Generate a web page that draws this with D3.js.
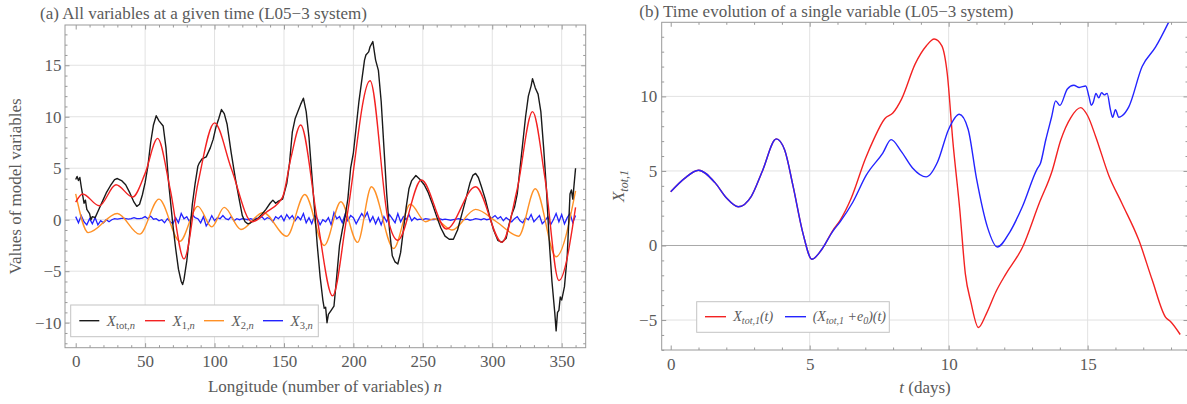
<!DOCTYPE html>
<html><head><meta charset="utf-8">
<script src="https://cdn.jsdelivr.net/npm/d3@7"></script>
<style>
body{margin:0;background:#fff}
svg{display:block}
text{font-family:"Liberation Serif","Times New Roman",serif;fill:#5a5a5a}
</style>
</head><body>
<svg id="c" width="1187" height="404"></svg>
<script>
// ---------------- Panel (a) data ----------------
const titleA = "(a) All variables at a given time (L05\u22123 system)";
const xLabelA = "Longitude (number of variables) ";
const yLabelA = "Values of model variables";
const xTicksA = [0, 50, 100, 150, 200, 250, 300, 350];
const yTicksA = [-10, -5, 0, 5, 10, 15];

// X1 (smooth, red) key points
const nX1 = [0, 5, 17, 29, 41, 50, 59, 68, 78, 88, 100, 112, 127, 137, 149, 155, 162, 174, 185, 195, 212, 225, 232, 249, 267, 288, 307, 318, 329, 338, 348, 360];
const vX1 = [1.7, 2.5, 1.35, 3.4, 2.2, 4.5, 7.9, 3.0, -3.8, 3.5, 9.4, 5.0, -0.2, 0.7, 2.2, 6.0, 9.2, 0.0, -7.4, 0.0, 13.5, 0.0, -2.0, 3.85, -0.9, 3.2, -2.2, 3.0, 10.5, 4.0, -5.9, 1.2];

// X2 (orange) key points
const nX2 = [0, 9, 30, 46, 60, 75, 88, 98, 107, 119, 135, 152, 165, 179, 191, 203, 213, 229, 241, 252, 258, 271, 288, 303, 319, 331, 346, 360];
const vX2 = [2.5, -1.25, 0.6, -1.4, 2.0, -2.1, 1.3, -0.7, 1.2, -0.95, 0.7, -1.6, 2.45, -2.5, 1.75, -2.2, 3.2, -2.8, 1.5, -0.2, 0.1, -1.0, 1.0, -0.2, -1.6, 3.0, -3.6, 2.8];

// X3 (blue) values at n = 0, 2, 4, ..., 360
const vX3 = [
  0.3, -0.3, 0.4, -0.2, -0.5, 0.1,
  -0.4, 0.2, -0.5, -0.1, -0.3, 0.0, -0.2,
  0.0, 0.1, 0.05, 0.1, 0.15, 0.1, 0.05, 0.1, 0.2, 0.1, 0.1, 0.15,
  0.3, 0.1, 0.35, 0.05,
  0.1, -0.1, 0.0, -0.3, 0.1, -0.2, -0.4, 0.2, -0.3, 0.6, 0.1, 0.3, -0.2, 0.5, 0.2, 0.1, -0.3, 0.3, -0.6, -0.2, 0.4, -0.1,
  0.2, 0.1, 0.4, 0.1, 0.0, 0.3, -0.1, 0.1, 0.0, 0.1, 0.05, 0.0, 0.1, 0.0, 0.15, 0.1, 0.3, 0.0, 0.2, 0.1, -0.2, 0.3, 0.1, 0.4, -0.1,
  0.5, 0.1, 0.4, -0.1, 0.3, 0.0, 0.6, -0.3, 0.2, -0.4, 0.4, 0.1, -0.5, 0.0, -0.2, 0.2, -0.5, 0.7, 0.1, 0.3, -0.3, 0.5, -0.1, 0.4, 0.2, -0.4, 0.1, 0.6, 0.2, 0.7, -0.2, 0.3,
  -0.4, 0.2, -0.5, 0.3, -0.2, 0.5, 0.1, -0.3, 0.6, -0.2, 0.3, 0.0, 0.5, -0.1, 0.2,
  0.0, 0.05, 0.0, 0.1, 0.05, 0.0, 0.0, 0.05, 0.1, 0.0, 0.05, 0.0, -0.05, 0.0, 0.05, 0.1, 0.0, 0.0, 0.05, -0.05, 0.0, 0.1, 0.05, 0.0, 0.1, 0.0, 0.05,
  0.2, 0.4, 0.1, 0.3, -0.1, 0.2, 0.0, -0.2, 0.1, 0.3, -0.1, -0.3, 0.2, 0.0, 0.5, -0.2, 0.1, 0.4, -0.4, -0.1, 0.3, -0.5, 0.0, 0.6, -0.2, 0.5, -0.4, 0.2, 0.6, -0.3, 0.4
];
const x3Step = 2;

// X_tot (black) points
const nTot = [0, 1, 2, 3, 4, 6, 7, 8, 10, 11, 12, 14, 16, 18, 20, 22, 25, 28, 30, 33, 36, 39, 42, 44, 46, 48, 50, 52, 54, 56, 58, 60, 63, 65, 67, 70, 72, 74, 76, 77, 78, 80, 82, 84, 86, 88, 89, 91, 94, 97, 99, 101, 103, 105, 107, 109, 112, 115, 118, 120, 122, 124, 126, 128, 131, 134, 137, 140, 142, 144, 146, 149, 152, 154, 156, 158, 160, 162, 164, 166, 168, 170, 172, 174, 176, 178, 179, 180, 181, 182, 184, 186, 188, 190, 192, 194, 196, 198, 200, 202, 204, 206, 208, 209, 211, 212, 214, 216, 218, 220, 222, 224, 226, 228, 230, 232, 234, 236, 238, 240, 242, 245, 248, 251, 254, 257, 260, 263, 266, 269, 272, 275, 278, 281, 284, 286, 288, 290, 292, 295, 298, 301, 304, 307, 310, 312, 314, 316, 318, 320, 322, 324, 326, 328, 329, 331, 333, 335, 337, 339, 341, 343, 345, 346, 347, 348, 349, 350, 352, 354, 355, 356, 357, 358, 359, 360];
const vTot = [3.9, 4.2, 3.8, 4.1, 3.2, 1.6, 1.9, 1.0, 0.6, 0.0, 0.3, 0.2, 0.8, 1.4, 2.0, 2.6, 3.3, 3.9, 4.0, 3.8, 3.4, 2.6, 1.7, 1.3, 1.5, 2.4, 3.6, 5.2, 7.5, 9.2, 10.1, 9.6, 9.1, 7.0, 3.5, -0.5, -2.8, -4.8, -6.0, -6.3, -5.8, -4.0, -1.5, 1.5, 3.5, 5.2, 5.5, 5.9, 6.1, 7.0, 7.8, 9.0, 9.8, 10.7, 10.3, 9.3, 6.5, 4.0, 1.8, 0.4, -0.2, -0.4, -0.3, -0.1, 0.1, 0.5, 1.0, 1.6, 1.9, 1.6, 1.8, 2.0, 3.5, 5.5, 8.5, 9.8, 10.5, 11.2, 11.8, 10.5, 8.0, 4.5, 1.0, -2.5, -5.5, -7.8, -8.6, -8.5, -10.0, -9.2, -8.8, -8.4, -5.5, -2.5, -1.0, 0.3, 2.0, 5.0, 6.5, 9.0, 11.5, 13.5, 15.5, 16.0, 16.3, 16.8, 17.3, 15.5, 14.5, 11.5, 7.0, 2.5, -1.0, -3.5, -4.1, -4.3, -3.2, -1.0, 1.2, 3.0, 3.8, 4.3, 3.9, 3.4, 2.6, 1.5, 0.3, -0.8, -1.6, -1.9, -1.9, -1.0, 0.5, 2.0, 3.6, 4.3, 4.5, 4.1, 3.3, 2.0, 0.4, -1.0, -2.0, -2.2, -1.8, -0.5, 0.5, 1.2, 2.5, 5.0, 7.5, 10.0, 12.0, 13.0, 13.7, 12.8, 12.2, 10.5, 7.0, 3.0, -2.0, -6.0, -9.0, -10.8, -9.0, -8.8, -7.5, -7.8, -6.5, -3.5, -0.5, 2.5, 2.9, 2.0, 3.5, 5.0];

const legendA = ["tot,", "1,", "2,", "3,"];

// ---------------- Panel (b) data ----------------
const titleB = "(b) Time evolution of a single variable (L05\u22123 system)";
const xTicksB = [0, 5, 10, 15];
const yTicksB = [-5, 0, 5, 10];

const tRed = [0, 0.5, 1.0, 1.6, 2.0, 2.43, 2.9, 3.3, 3.8, 4.1, 4.4, 4.76, 5.08, 5.42, 5.83, 6.1, 6.5, 7.0, 7.3, 7.7, 8.0, 8.3, 8.8, 9.2, 9.48, 9.75, 9.95, 10.15, 10.4, 10.6, 10.8, 11.07, 11.35, 11.7, 12.06, 12.66, 13.25, 13.73, 14.03, 14.4, 14.75, 15.0, 15.29, 15.76, 16.24, 16.84, 17.32, 17.8, 17.98, 18.33];
const vRed = [3.6, 4.5, 5.05, 4.2, 3.2, 2.6, 3.3, 5.0, 7.15, 6.4, 4.0, 0.8, -0.92, -0.3, 1.0, 1.7, 3.2, 5.8, 7.1, 8.5, 8.9, 9.8, 12.2, 13.4, 13.85, 13.4, 11.5, 7.0, 2.4, -1.9, -3.8, -5.5, -4.6, -3.1, -1.9, -0.1, 2.8, 5.05, 7.06, 8.6, 9.25, 8.7, 7.3, 4.7, 2.8, 0.36, -2.3, -4.8, -5.1, -5.97];

const tBlue = [0, 0.5, 1.0, 1.6, 2.0, 2.43, 2.9, 3.3, 3.8, 4.1, 4.4, 4.76, 5.08, 5.42, 5.83, 6.1, 6.55, 7.03, 7.63, 7.93, 8.3, 8.7, 9.19, 9.6, 10.0, 10.38, 10.7, 11.0, 11.4, 11.75, 12.2, 12.65, 13.19, 13.3, 13.49, 13.7, 13.85, 14.0, 14.27, 14.5, 14.7, 14.93, 15.05, 15.13, 15.2, 15.3, 15.4, 15.5, 15.6, 15.7, 15.82, 15.9, 16.0, 16.12, 16.24, 16.48, 16.96, 17.44, 17.92, 18.3];
const vBlue = [3.6, 4.5, 5.05, 4.2, 3.2, 2.6, 3.3, 5.0, 7.15, 6.4, 4.0, 0.8, -0.92, -0.3, 0.95, 1.6, 2.9, 4.7, 6.2, 7.1, 6.3, 5.2, 4.6, 5.6, 7.8, 8.8, 7.8, 4.5, 1.2, -0.1, 0.9, 2.6, 5.16, 5.5, 7.06, 8.6, 9.7, 9.4, 10.5, 10.75, 10.6, 10.7, 9.97, 9.4, 9.6, 10.2, 9.9, 10.25, 10.1, 10.2, 9.1, 8.6, 9.1, 8.6, 8.7, 9.3, 12.0, 13.3, 15.0, 16.5];

// ---------------- Drawing ----------------
const svg = d3.select("#c");
const GRID = "#e2e2e2", FRAME = "#9a9a9a", TXT = "#5a5a5a";
const FS = 17;

function drawFrame(g, x, y, box, xTicks, yTicks, xMinor, yMinor, opts) {
  // grid
  g.append("g").selectAll("line").data(opts.vGrid).join("line")
    .attr("x1", d => x(d)).attr("x2", d => x(d))
    .attr("y1", box.top).attr("y2", box.bottom)
    .attr("stroke", GRID).attr("stroke-width", 1);
  g.append("g").selectAll("line").data(opts.hGrid).join("line")
    .attr("x1", box.left).attr("x2", box.right)
    .attr("y1", d => y(d)).attr("y2", d => y(d))
    .attr("stroke", d => (opts.zeroDark && d === 0) ? "#a8a8a8" : GRID).attr("stroke-width", 1);
}

function drawAxes(g, x, y, box, xTicks, yTicks, xMinor, yMinor, xPad, yPad) {
  const style = sel => {
    sel.select(".domain").remove();
    sel.selectAll("line").attr("stroke", FRAME);
    sel.selectAll("text").attr("font-size", FS).attr("fill", TXT)
      .attr("font-family", '"Liberation Serif","Times New Roman",serif');
  };
  // bottom
  g.append("g").attr("transform", `translate(0,${box.bottom})`)
    .call(d3.axisBottom(x).tickValues(xTicks).tickSizeInner(-4.5).tickSizeOuter(0).tickPadding(xPad)).call(style);
  g.append("g").attr("transform", `translate(0,${box.bottom})`)
    .call(d3.axisBottom(x).tickValues(xMinor).tickSizeInner(-2.5).tickSizeOuter(0).tickFormat("")).call(style);
  // top
  g.append("g").attr("transform", `translate(0,${box.top})`)
    .call(d3.axisTop(x).tickValues(xTicks).tickSizeInner(-4.5).tickSizeOuter(0).tickFormat("")).call(style);
  g.append("g").attr("transform", `translate(0,${box.top})`)
    .call(d3.axisTop(x).tickValues(xMinor).tickSizeInner(-2.5).tickSizeOuter(0).tickFormat("")).call(style);
  // left
  g.append("g").attr("transform", `translate(${box.left},0)`)
    .call(d3.axisLeft(y).tickValues(yTicks).tickSizeInner(-4.5).tickSizeOuter(0).tickPadding(yPad)).call(style);
  g.append("g").attr("transform", `translate(${box.left},0)`)
    .call(d3.axisLeft(y).tickValues(yMinor).tickSizeInner(-2.5).tickSizeOuter(0).tickFormat("")).call(style);
  // right
  g.append("g").attr("transform", `translate(${box.right},0)`)
    .call(d3.axisRight(y).tickValues(yTicks).tickSizeInner(-4.5).tickSizeOuter(0).tickFormat("")).call(style);
  g.append("g").attr("transform", `translate(${box.right},0)`)
    .call(d3.axisRight(y).tickValues(yMinor).tickSizeInner(-2.5).tickSizeOuter(0).tickFormat("")).call(style);
  // frame
  g.append("rect").attr("x", box.left).attr("y", box.top)
    .attr("width", box.right - box.left).attr("height", box.bottom - box.top)
    .attr("fill", "none").attr("stroke", FRAME).attr("stroke-width", 1);
}

// ===== Panel (a) =====
const boxA = {left: 65, right: 585.7, top: 25, bottom: 347.7};
const xA = d3.scaleLinear().domain([-7.7, 367.3]).range([boxA.left, boxA.right]);
const yA = d3.scaleLinear().domain([-12.43, 18.91]).range([boxA.bottom, boxA.top]);
const gA = svg.append("g");
const xMinorA = d3.range(-0, 370, 10).filter(v => v % 50 !== 0);
const yMinorA = d3.range(-12, 19, 1).filter(v => v % 5 !== 0);
drawFrame(gA, xA, yA, boxA, xTicksA, yTicksA, xMinorA, yMinorA,
  {vGrid: xTicksA.filter(d => d !== 0), hGrid: yTicksA, zeroDark: false});

svg.append("clipPath").attr("id", "clipA").append("rect")
  .attr("x", boxA.left).attr("y", boxA.top).attr("width", boxA.right - boxA.left).attr("height", boxA.bottom - boxA.top);
const plotA = gA.append("g").attr("clip-path", "url(#clipA)");

const smoothA = d3.line().x(d => xA(d[0])).y(d => yA(d[1])).curve(d3.curveMonotoneX);
const linA = d3.line().x(d => xA(d[0])).y(d => yA(d[1]));

const x3Pts = vX3.map((v, i) => [i * x3Step, v]);
const totPts = nTot.map((n, i) => [n, vTot[i]]);
const x1Pts = nX1.map((n, i) => [n, vX1[i]]);
const x2Pts = nX2.map((n, i) => [n, vX2[i]]);

const colA = {tot: "#1a1a1a", x1: "#f32222", x2: "#ff9126", x3: "#2222ff"};
plotA.append("path").datum(x3Pts).attr("d", linA).attr("fill", "none").attr("stroke", colA.x3).attr("stroke-width", 1.3);
plotA.append("path").datum(x2Pts).attr("d", smoothA).attr("fill", "none").attr("stroke", colA.x2).attr("stroke-width", 1.4);
plotA.append("path").datum(totPts).attr("d", linA).attr("fill", "none").attr("stroke", colA.tot).attr("stroke-width", 1.4).attr("stroke-linejoin", "round");
plotA.append("path").datum(x1Pts).attr("d", smoothA).attr("fill", "none").attr("stroke", colA.x1).attr("stroke-width", 1.4);

drawAxes(gA, xA, yA, boxA, xTicksA, yTicksA, xMinorA, yMinorA, 7.7, 3.5);

// titles & labels (a)
svg.append("text").attr("x", 40).attr("y", 19).attr("font-size", FS).text(titleA);
const xlA = svg.append("text").attr("x", 325).attr("y", 391.7).attr("text-anchor", "middle").attr("font-size", FS);
xlA.append("tspan").text(xLabelA);
xlA.append("tspan").attr("font-style", "italic").text("n");
svg.append("text").attr("transform", "translate(20.5,186.4) rotate(-90)").attr("text-anchor", "middle")
  .attr("font-size", FS).text(yLabelA);

// legend (a)
const legA = svg.append("g");
legA.append("rect").attr("x", 70.7).attr("y", 305).attr("width", 247.6).attr("height", 31.7)
  .attr("fill", "#fff").attr("stroke", "#c4c4c4").attr("stroke-width", 1);
const legItemsA = [
  {c: colA.tot, sub: legendA[0], x: 79.3},
  {c: colA.x1, sub: legendA[1], x: 145},
  {c: colA.x2, sub: legendA[2], x: 204},
  {c: colA.x3, sub: legendA[3], x: 263}
];
legItemsA.forEach(it => {
  legA.append("line").attr("x1", it.x).attr("x2", it.x + 20).attr("y1", 320.7).attr("y2", 320.7)
    .attr("stroke", it.c).attr("stroke-width", 1.4);
  const t = legA.append("text").attr("x", it.x + 27.5).attr("y", 325.5).attr("font-size", 15).attr("fill", "#333");
  t.append("tspan").attr("font-style", "italic").text("X");
  t.append("tspan").attr("font-size", 10.5).attr("dy", 3).text(it.sub);
  t.append("tspan").attr("font-size", 10.5).attr("font-style", "italic").text("n");
});

// ===== Panel (b) =====
const boxB = {left: 661.7, right: 1188, top: 22.3, bottom: 350};
const xB = d3.scaleLinear().domain([-0.324, 18.61]).range([boxB.left, boxB.right]);
const yB = d3.scaleLinear().domain([-7.01, 14.97]).range([boxB.bottom, boxB.top]);
const gB = svg.append("g");
const xMinorB = d3.range(0, 19, 1).filter(v => v % 5 !== 0);
const yMinorB = d3.range(-7, 15, 1).filter(v => v % 5 !== 0);
drawFrame(gB, xB, yB, boxB, xTicksB, yTicksB, xMinorB, yMinorB,
  {vGrid: xTicksB.filter(d => d !== 0), hGrid: yTicksB, zeroDark: true});

svg.append("clipPath").attr("id", "clipB").append("rect")
  .attr("x", boxB.left).attr("y", boxB.top).attr("width", boxB.right - boxB.left).attr("height", boxB.bottom - boxB.top);
const plotB = gB.append("g").attr("clip-path", "url(#clipB)");
const smoothB = d3.line().x(d => xB(d[0])).y(d => yB(d[1])).curve(d3.curveMonotoneX);
const redPts = tRed.map((t, i) => [t, vRed[i]]);
const bluePts = tBlue.map((t, i) => [t, vBlue[i]]);
const colB = {red: "#f32222", blue: "#2424ff"};
plotB.append("path").datum(redPts).attr("d", smoothB).attr("fill", "none").attr("stroke", colB.red).attr("stroke-width", 1.4);
plotB.append("path").datum(bluePts).attr("d", smoothB).attr("fill", "none").attr("stroke", colB.blue).attr("stroke-width", 1.4);

drawAxes(gB, xB, yB, boxB, xTicksB, yTicksB, xMinorB, yMinorB, 7.7, 4.5);

svg.append("text").attr("x", 639.3).attr("y", 17).attr("font-size", FS).text(titleB);
const xlB = svg.append("text").attr("x", 925).attr("y", 393).attr("text-anchor", "middle").attr("font-size", FS);
xlB.append("tspan").attr("font-style", "italic").text("t");
xlB.append("tspan").text(" (days)");
const ylB = svg.append("text").attr("transform", "translate(624,186) rotate(-90)").attr("text-anchor", "middle")
  .attr("font-size", FS).attr("font-style", "italic");
ylB.append("tspan").text("X");
ylB.append("tspan").attr("font-size", 12).attr("dy", 3.5).text("tot,1");

// legend (b)
const legB = svg.append("g");
legB.append("rect").attr("x", 696.7).attr("y", 301.7).attr("width", 192.6).attr("height", 30.6)
  .attr("fill", "#fff").attr("stroke", "#c4c4c4").attr("stroke-width", 1);
legB.append("line").attr("x1", 705).attr("x2", 726).attr("y1", 316.7).attr("y2", 316.7).attr("stroke", colB.red).attr("stroke-width", 1.4);
legB.append("line").attr("x1", 785).attr("x2", 806).attr("y1", 316.7).attr("y2", 316.7).attr("stroke", colB.blue).attr("stroke-width", 1.4);
const lb1 = legB.append("text").attr("x", 733.3).attr("y", 320.5).attr("font-size", 14).attr("font-style", "italic").attr("fill", "#333");
lb1.append("tspan").text("X");
lb1.append("tspan").attr("font-size", 10).attr("dy", 3).text("tot,1");
lb1.append("tspan").attr("dy", -3).text("(t)");
const lb2 = legB.append("text").attr("x", 812.7).attr("y", 320.5).attr("font-size", 14).attr("font-style", "italic").attr("fill", "#333");
lb2.append("tspan").text("(X");
lb2.append("tspan").attr("font-size", 10).attr("dy", 3).text("tot,1");
lb2.append("tspan").attr("dy", -3).text(" +e");
lb2.append("tspan").attr("font-size", 10).attr("dy", 3).text("0");
lb2.append("tspan").attr("dy", -3).text(")(t)");
</script>
</body></html>
